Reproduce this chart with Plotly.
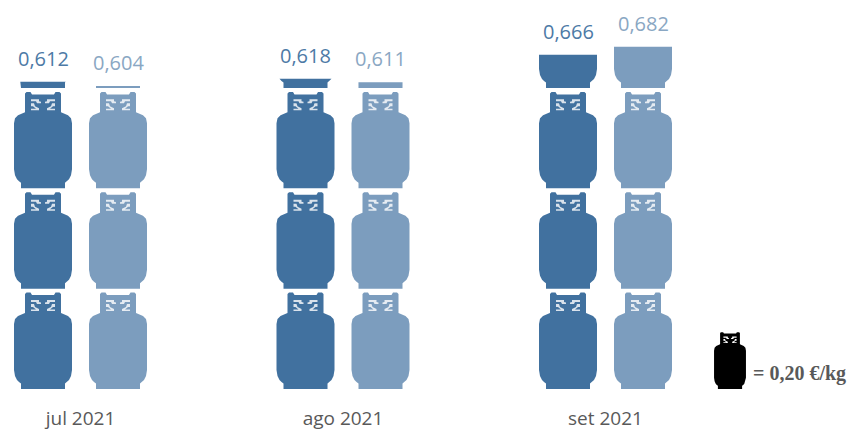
import math
import plotly.graph_objects as go

# ---- data ----
months = ["jul 2021", "ago 2021", "set 2021"]
series_a = [0.612, 0.618, 0.666]
series_b = [0.604, 0.611, 0.682]
unit_value = 0.20
legend_text = "= 0,20 €/kg"

# ---- style / layout ----
W, H = 856, 431
DARK, LIGHT = "#41719f", "#7c9dbe"
DARK_T, LIGHT_T = "#4d7aa6", "#8aa7c3"
GREY = "#595959"
PX_PER_CAT = 262.5
PX_PER_UNIT = 100.5
X0_PX = 80.5
BASE_PX = 389.5
OFFSET = 37.5 / PX_PER_CAT

# silhouette half outline, (half width px, height px) bottom to top
HALF = [(22, 0), (22, 5.5), (24, 7), (26, 9), (28, 13), (29, 19), (29, 65),
        (28, 70), (25, 73), (20, 75), (18, 76), (18, 95), (16.5, 96.5), (12.5, 96.5), (11, 94), (0, 94)]
OUTLINE = [(-x, y) for x, y in HALF[:-1]] + [(x, y) for x, y in reversed(HALF[:-1])]
DETAIL = [
    [(-12, 89), (-4, 89), (-4, 87), (-2, 86.5), (-2, 85), (-6, 85), (-7, 87), (-12, 87)],
    [(-12, 85), (-9, 85), (-8, 82), (-4, 80), (-4, 78), (-12, 78), (-12, 79.5), (-7, 79.5), (-10, 82), (-12, 82)],
]
DETAIL = DETAIL + [[(-x, y) for x, y in p] for p in DETAIL]


def clip(poly, hmax):
    out = []
    for (x1, y1), (x2, y2) in zip(poly, poly[1:] + poly[:1]):
        if y1 <= hmax:
            out.append((x1, y1))
        if (y1 <= hmax) != (y2 <= hmax):
            t = (hmax - y1) / (y2 - y1)
            out.append((x1 + t * (x2 - x1), hmax))
    return out


def add_path(xs, ys, poly, cx, base, sx=1.0, sy=1.0):
    """poly in icon px; cx in category units; base in value units."""
    for x, y in poly + poly[:1]:
        xs.append(cx + x * sx / PX_PER_CAT)
        ys.append(base + y * sy / PX_PER_UNIT * unit_value)
    xs.append(None)
    ys.append(None)


def area(xs, ys, color):
    return go.Scatter(x=xs, y=ys, mode="lines", fill="toself", fillcolor=color,
                      line=dict(width=0, color=color), hoverinfo="skip", showlegend=False)


fig = go.Figure()
for vals, off, col, tcol in [(series_a, -OFFSET, DARK, DARK_T), (series_b, OFFSET, LIGHT, LIGHT_T)]:
    xs, ys, wx, wy = [], [], [], []
    for i, v in enumerate(vals):
        cx = i + off
        n = math.floor(v / unit_value + 1e-9)
        for k in range(n):
            add_path(xs, ys, OUTLINE, cx, k * unit_value)
            for d in DETAIL:
                add_path(wx, wy, d, cx, k * unit_value)
        frac = (v - n * unit_value) / unit_value
        if frac > 0:
            add_path(xs, ys, clip(OUTLINE, frac * PX_PER_UNIT), cx, n * unit_value)
        fig.add_annotation(x=cx, y=v, text=f"{v:.3f}".replace(".", ","), showarrow=False,
                           xanchor="center", yanchor="middle", yshift=23.5,
                           font=dict(family="Open Sans", size=20, color=tcol))
    fig.add_trace(area(xs, ys, col))
    fig.add_trace(area(wx, wy, "rgba(255,255,255,0.8)"))

# key icon
key_cx = (730 - X0_PX) / PX_PER_CAT
kx, ky, kwx, kwy = [], [], [], []
add_path(kx, ky, OUTLINE, key_cx, 0, sx=0.55, sy=0.59)
for d in DETAIL:
    add_path(kwx, kwy, d, key_cx, 0, sx=0.55, sy=0.59)
fig.add_trace(area(kx, ky, "#000000"))
fig.add_trace(area(kwx, kwy, "white"))
fig.add_annotation(x=(751 - X0_PX) / PX_PER_CAT, y=(BASE_PX - 374) / PX_PER_UNIT * unit_value,
                   text=f"<b>{legend_text}</b>", showarrow=False, xanchor="left", yanchor="middle",
                   xshift=0, font=dict(family="Liberation Serif", size=20, color=GREY))

k = unit_value / PX_PER_UNIT
fig.update_layout(
    width=W, height=H, autosize=False,
    margin=dict(l=0, r=0, t=0, b=H - BASE_PX, pad=0, autoexpand=False),
    paper_bgcolor="white", plot_bgcolor="white", showlegend=False,
    xaxis=dict(range=[-X0_PX / PX_PER_CAT, (W - X0_PX) / PX_PER_CAT], tickmode="array",
               tickvals=list(range(len(months))), ticktext=months, showgrid=False, zeroline=False,
               showline=False, ticks="outside", ticklen=12, tickcolor="rgba(0,0,0,0)", automargin=False,
               tickfont=dict(family="Open Sans", size=19, color=GREY)),
    yaxis=dict(range=[0, BASE_PX * k], visible=False, automargin=False),
)
fig.write_html("out.html", config={"displayModeBar": False},
               post_script="document.body.style.margin='0';document.documentElement.style.overflow='hidden';")
